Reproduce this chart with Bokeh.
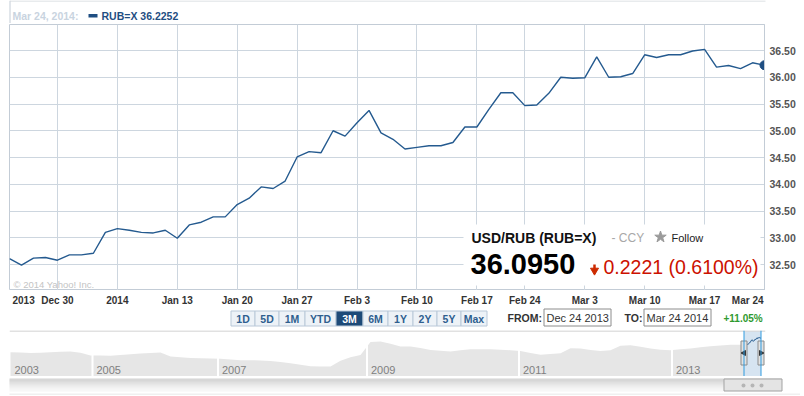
import numpy as np
from bokeh.plotting import figure
from bokeh.layouts import column
from bokeh.models import Range1d, FixedTicker, Span, ColumnDataSource, PrintfTickFormatter, Label
from bokeh.embed import file_html
from bokeh.resources import INLINE

# ---------------- data ----------------
PRICES = [32.61, 32.49, 32.62, 32.63, 32.58, 32.68, 32.68, 32.71, 33.10, 33.17,
          33.14, 33.10, 33.09, 33.14, 32.99, 33.24, 33.29, 33.39, 33.39, 33.62,
          33.74, 33.95, 33.92, 34.06, 34.51, 34.61, 34.59, 35.00, 34.90, 35.15,
          35.38, 34.96, 34.84, 34.66, 34.69, 34.72, 34.72, 34.78, 35.07, 35.07,
          35.40, 35.71, 35.71, 35.47, 35.48, 35.70, 36.00, 35.98, 35.99, 36.38,
          36.00, 36.01, 36.07, 36.42, 36.37, 36.42, 36.42, 36.49, 36.52, 36.19,
          36.22, 36.16, 36.27, 36.2252]
X_TICK_POS = [0, 4, 9, 14, 19, 24, 29, 34, 39, 43, 48, 53, 58, 63]
X_TICK_LABELS = ["2013", "Dec 30", "2014", "Jan 13", "Jan 20", "Jan 27", "Feb 3",
                 "Feb 10", "Feb 17", "Feb 24", "Mar 3", "Mar 10", "Mar 17", "Mar 24"]
Y_TICKS = [32.5, 33.0, 33.5, 34.0, 34.5, 35.0, 35.5, 36.0, 36.5]

LEGEND_DATE = "Mar 24, 2014:"
LEGEND_SERIES = "RUB=X 36.2252"
COPYRIGHT = "\u00a9 2014 Yahoo! Inc."
QUOTE_TITLE = "USD/RUB (RUB=X)"
QUOTE_TYPE = "- CCY"
QUOTE_FOLLOW = "Follow"
QUOTE_PRICE = "36.0950"
QUOTE_CHANGE = "0.2221 (0.6100%)"

RANGE_BUTTONS = ["1D", "5D", "1M", "YTD", "3M", "6M", "1Y", "2Y", "5Y", "Max"]
SELECTED_BUTTON = "3M"
FROM_DATE = "Dec 24 2013"
TO_DATE = "Mar 24 2014"
PERIOD_CHANGE = "+11.05%"

NAV_VALUES = [29.15, 28.95, 28.7, 28.85, 29.1, 29.35, 29.5, 28.85, 27.5, 27.45,
              27.35, 27.75, 28.1, 28.55, 28.75, 28.95, 27.0, 26.6, 26.3, 26.15,
              26.0, 25.85, 25.5, 25.15, 25.1, 25.05, 24.8, 24.25, 23.65, 22.9,
              22.15, 22.05, 22.0, 24.85, 26.65, 27.8, 34.25, 34.5, 33.35, 32.0,
              32.0, 31.2, 30.25, 29.85, 29.5, 30.1, 30.65, 30.65, 30.6, 30.35,
              30.15, 29.7, 28.75, 27.85, 28.25, 28.65, 31.15, 30.95, 30.2, 29.8,
              30.15, 32.4, 32.6, 31.85, 30.95, 30.35, 30.1, 30.6, 31.05, 31.6,
              32.15, 32.55, 32.85, 32.85, 34.25, 36.35]
NAV_YEARS = ["2003", "2005", "2007", "2009", "2011", "2013"]
NAV_YEAR_POS = [0.0, 8.2, 20.75, 35.65, 50.85, 66.15]

# ---------------- layout / style ----------------
W = 800
FONT = "Liberation Sans"


def make_fig(height, x_range, y_range, **kw):
    p = figure(width=W, height=height, x_range=x_range, y_range=y_range,
               output_backend="svg", toolbar_location=None, tools="",
               x_axis_location=None, y_axis_location=kw.pop("y_axis_location", None),
               min_border=0, **kw)
    p.outline_line_color = None
    p.background_fill_color = "white"
    p.border_fill_color = "white"
    try:
        p.frame_align = False
    except Exception:
        pass
    return p


def lab(p, x, y, s, size, color, bold=False, align="left", baseline="middle", xoff=0):
    p.add_layout(Label(x=x, y=y, text=s, text_font=FONT, text_font_size=size,
                       text_color=color, text_font_style="bold" if bold else "normal",
                       text_align=align, text_baseline=baseline, x_offset=xoff))


# ---------- F0 : legend row (page y 0..23) ----------
F0_H = 23
p0 = make_fig(F0_H, Range1d(0, W), Range1d(F0_H, 0))
p0.grid.visible = False
p0.segment(x0=[9.5], y0=[0], x1=[9.5], y1=[F0_H], line_color="#c3ccd6", line_width=1)
p0.segment(x0=[9.5], y0=[0.5], x1=[765], y1=[0.5], line_color="#d2d7dc", line_width=1)
lab(p0, 12, 15.5, LEGEND_DATE, "10.5px", "#c9d4df", bold=True)
p0.quad(left=[88], right=[97], top=[13.5], bottom=[17], fill_color="#1f4e82", line_color=None)
lab(p0, 101, 15.5, LEGEND_SERIES, "10.5px", "#1f4e82", bold=True)

# ---------- F1 : main chart (page y 23..290) ----------
F1_LEFT, F1_RIGHT, F1_TOP, F1_BOTTOM = 9, 764, 24, 290
Y_REF_PX, Y_REF_VAL, Y_PPU = 264.0, 32.5, 53.5
y_max = Y_REF_VAL + (Y_REF_PX - F1_TOP) / Y_PPU
y_min = Y_REF_VAL - (F1_BOTTOM - Y_REF_PX) / Y_PPU
n = len(PRICES)
xs = np.arange(n)
x_range = Range1d(0, n - 1)

p1 = make_fig(F1_BOTTOM - F0_H, x_range, Range1d(y_min, y_max), y_axis_location="right",
              min_border_left=F1_LEFT, min_border_right=W - F1_RIGHT,
              min_border_top=F1_TOP - F0_H, min_border_bottom=0)
p1.outline_line_color = "#c3ccd6"
p1.xgrid.ticker = FixedTicker(ticks=X_TICK_POS)
p1.grid.grid_line_color = "#cdd6df"
p1.grid.grid_line_width = 1
ax = p1.yaxis[0]
ax.ticker = FixedTicker(ticks=Y_TICKS)
ax.formatter = PrintfTickFormatter(format="%.2f")
ax.axis_line_color = "#c3ccd6"
ax.major_tick_line_color = None
ax.minor_tick_line_color = None
ax.major_tick_out = 0
ax.major_tick_in = 0
ax.major_label_standoff = 5
ax.major_label_text_font = FONT
ax.major_label_text_font_style = "bold"
ax.major_label_text_font_size = "10.5px"
ax.major_label_text_color = "#555555"


def mx(px):
    return (px - F1_LEFT) * (n - 1) / (F1_RIGHT - F1_LEFT)


def my(py):
    return y_max - (py - F1_TOP) * (y_max - y_min) / (F1_BOTTOM - F1_TOP)


p1.line(x=xs, y=PRICES, line_color="#245a8f", line_width=1.4)
p1.scatter(x=[xs[-1]], y=[PRICES[-1]], size=9, marker="circle",
           fill_color="#1f4e82", line_color="#1f4e82")

lab(p1, mx(13), my(283.5), COPYRIGHT, "9.5px", "#c4c4c4")

# quote overlay box
p1.quad(left=[mx(463)], right=[mx(760)], top=[my(224)], bottom=[my(285)],
        fill_color="white", line_color=None)
lab(p1, mx(471), my(237), QUOTE_TITLE, "14px", "#111111", bold=True)
lab(p1, mx(611), my(237), QUOTE_TYPE, "12px", "#a8a8a8")
p1.scatter(x=[mx(660)], y=[my(236.5)], marker="star", size=12,
           fill_color="#9a9a9a", line_color="#9a9a9a")
lab(p1, mx(671), my(237.5), QUOTE_FOLLOW, "11px", "#222222")
lab(p1, mx(470), my(263.5), QUOTE_PRICE, "29px", "#000000", bold=True)
p1.segment(x0=[mx(594)], y0=[my(264)], x1=[mx(594)], y1=[my(269)],
           line_color="#cc2a00", line_width=2.5)
p1.scatter(x=[mx(594)], y=[my(270)], marker="inverted_triangle", size=8,
           fill_color="#cc2a00", line_color="#cc2a00")
lab(p1, mx(603), my(266.5), QUOTE_CHANGE, "19.5px", "#cc1100")

# ---------- F1b : x tick labels (page y 290..307) ----------
F1B_TOP, F1B_H = 290, 17
p1b = make_fig(F1B_H, x_range, Range1d(F1B_H, 0),
               min_border_left=F1_LEFT, min_border_right=W - F1_RIGHT)
p1b.grid.visible = False
nl = len(X_TICK_LABELS)
for i, (pos, t) in enumerate(zip(X_TICK_POS, X_TICK_LABELS)):
    if i == 0:
        al, off = "left", 3
    elif i == nl - 1:
        al, off = "right", -1
    else:
        al, off = "center", 0
    lab(p1b, pos, 299.5 - F1B_TOP, t, "10px", "#333333", bold=True, align=al, xoff=off)

# ---------- F2 : range buttons / date inputs (page y 307..330) ----------
F2_TOP, F2_H = 307, 23
p2 = make_fig(F2_H, Range1d(0, W), Range1d(F2_H, 0))
p2.grid.visible = False
def c2y(py): return py - F2_TOP

BTN_X0 = 230.5
BTN_W = [24, 24, 26, 31, 27, 25, 25, 24, 24, 26]
edges = [BTN_X0]
for w in BTN_W:
    edges.append(edges[-1] + w)
lefts = edges[:-1]
rights = edges[1:]
fills = ["#1d4a78" if b == SELECTED_BUTTON else "#edf2f7" for b in RANGE_BUTTONS]
tcols = ["#ffffff" if b == SELECTED_BUTTON else "#2f5f8f" for b in RANGE_BUTTONS]
nb = len(RANGE_BUTTONS)
bsrc = ColumnDataSource(dict(l=lefts, r=rights, t=[c2y(310.5)] * nb,
                             b=[c2y(325.5)] * nb, f=fills))
p2.quad(left="l", right="r", top="t", bottom="b", fill_color="f", line_color="#b9c8d8",
        source=bsrc)
for l_, r_, b_, tc in zip(lefts, rights, RANGE_BUTTONS, tcols):
    lab(p2, (l_ + r_) / 2, c2y(318), b_, "10.5px", tc, bold=True, align="center")

lab(p2, 507, c2y(317.5), "FROM:", "10.5px", "#333333", bold=True)
p2.quad(left=[543.5], right=[610.5], top=[c2y(308.5)], bottom=[c2y(325.5)],
        fill_color="white", line_color="#8c8c8c")
lab(p2, 546, c2y(317.5), FROM_DATE, "11px", "#333333")
lab(p2, 624, c2y(317.5), "TO:", "10.5px", "#333333", bold=True)
p2.quad(left=[643.5], right=[710.5], top=[c2y(308.5)], bottom=[c2y(325.5)],
        fill_color="white", line_color="#8c8c8c")
lab(p2, 646, c2y(317.5), TO_DATE, "11px", "#333333")
lab(p2, 723, c2y(317.5), PERIOD_CHANGE, "10px", "#2f9a2f", bold=True)

# ---------- F3 : navigator (page y 330..376) ----------
def nx(px): return (px - 10.0) / 10.0
def ny(py): return 36.5 - 0.5 * (py - 337.0)

p3 = make_fig(46, Range1d(nx(9), nx(765)), Range1d(ny(376), ny(330)),
              min_border_left=9, min_border_right=W - 765)
p3.grid.visible = False
nav_x = np.arange(len(NAV_VALUES))
p3.varea(x=nav_x, y1=[ny(376)] * len(nav_x), y2=NAV_VALUES, fill_color="#e6e6e6")
for pos in NAV_YEAR_POS[1:]:
    p3.add_layout(Span(location=pos, dimension="height", line_color="white", line_width=2))
for pos, yr in zip(NAV_YEAR_POS, NAV_YEARS):
    lab(p3, pos, ny(369), yr, "11px", "#808080", xoff=4)
p3.add_layout(Span(location=ny(330.5), dimension="width", line_color="#c4c4c4", line_width=1))

sel0, sel1 = nx(743.5), nx(760.5)
p3.quad(left=[sel0], right=[sel1], top=[ny(331)], bottom=[ny(376)],
        fill_color="#d6e4f1", line_color=None)
sel_x = sel0 + (sel1 - sel0) * xs / (n - 1)
p3.line(x=sel_x, y=PRICES, line_color="#245a8f", line_width=1)
p3.add_layout(Span(location=sel0, dimension="height", line_color="#2f9be0", line_width=1))
p3.add_layout(Span(location=sel1, dimension="height", line_color="#2f9be0", line_width=1))
p3.quad(left=[nx(740.5), nx(757.5)], right=[nx(746.5), nx(763.5)],
        top=[ny(340.5)] * 2, bottom=[ny(364.5)] * 2,
        fill_color="#e2e2e2", line_color="#8c8c8c")
p3.scatter(x=[nx(743.5)], y=[ny(352.5)], marker="triangle", size=5, angle=np.pi / 2,
           fill_color="#333333", line_color="#333333")
p3.scatter(x=[nx(760.5)], y=[ny(352.5)], marker="triangle", size=5, angle=-np.pi / 2,
           fill_color="#333333", line_color="#333333")

# ---------- F4 : scrollbar (page y 376..395) ----------
F4_TOP, F4_H = 376, 19
p4 = make_fig(F4_H, Range1d(0, W), Range1d(F4_H, 0))
p4.grid.visible = False
def c4y(py): return py - F4_TOP
track_cols = ["#d4d4d4", "#c6c6c6", "#cbcbcb", "#d1d1d1", "#d7d7d7", "#dcdcdc",
              "#e1e1e1", "#e6e6e6", "#eaeaea", "#eeeeee", "#f1f1f1", "#f3f3f3", "#f5f5f5"]
rows = np.arange(len(track_cols))
p4.quad(left=9, right=781, top=c4y(378) + rows, bottom=c4y(379) + rows,
        fill_color=track_cols, line_color=None)
p4.quad(left=[723.5], right=[781.5], top=[c4y(378.5)], bottom=[c4y(390.5)],
        fill_color="#e4e4e4", line_color="#a3a3a3")
p4.scatter(x=[743, 752, 761], y=[c4y(385)] * 3, marker="circle", size=4,
           fill_color="#b5b5b5", line_color=None)
p4.quad(left=[9], right=[W], top=[c4y(393)], bottom=[c4y(395)],
        fill_color="#f0f0f0", line_color=None)

layout = column(p0, p1, p1b, p2, p3, p4, spacing=0)
open("out.html", "w").write(file_html(layout, INLINE))
